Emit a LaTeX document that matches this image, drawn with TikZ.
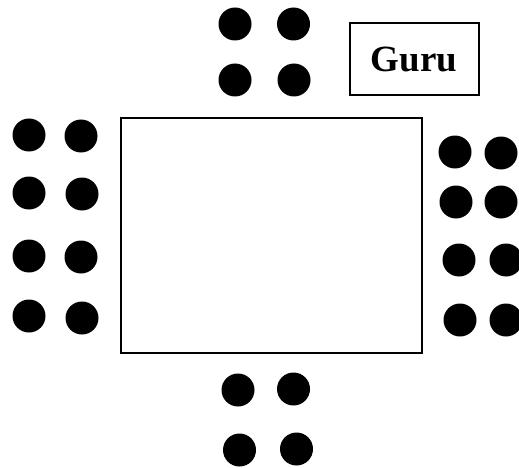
\documentclass[tikz,border=0pt]{standalone}
\usepackage{fontspec}
\setmainfont{Liberation Serif}
\begin{document}
\begin{tikzpicture}[x=1pt,y=-1pt,
  seat/.style={circle,fill=black,inner sep=0pt,minimum size=33pt},
  tablebox/.style={draw=black,line width=2pt},
  gurubox/.style={draw=black,line width=2pt,minimum width=129pt,minimum height=72pt,inner sep=0pt,font=\fontsize{37}{40}\selectfont\bfseries}]
\useasboundingbox (0,0) rectangle (519,468);
% table
\draw[tablebox] (121,118) rectangle (422,353);
\coordinate (tbl) at (271.5,235.5);
% guru
\node[gurubox] (guru) at (414,59.5) {Guru};
% top seats
\node[seat] (t1) at (235,24) {};
\node[seat] (t2) at (293.5,24) {};
\node[seat] (t3) at (235,80) {};
\node[seat] (t4) at (294,80) {};
% left seats
\node[seat] (l1) at (29,135) {};
\node[seat] (l2) at (81,136) {};
\node[seat] (l3) at (29,193) {};
\node[seat] (l4) at (82,194) {};
\node[seat] (l5) at (29,256) {};
\node[seat] (l6) at (81,257) {};
\node[seat] (l7) at (29,316) {};
\node[seat] (l8) at (82,318) {};
% right seats
\node[seat] (r1) at (455,152) {};
\node[seat] (r2) at (501,153) {};
\node[seat] (r3) at (456,202) {};
\node[seat] (r4) at (501,202) {};
\node[seat] (r5) at (459,260) {};
\node[seat] (r6) at (506,260) {};
\node[seat] (r7) at (460,320) {};
\node[seat] (r8) at (506,320) {};
% bottom seats
\node[seat] (b1) at (238,390) {};
\node[seat] (b2) at (293.5,389) {};
\node[seat] (b3) at (239.5,450) {};
\node[seat] (b4) at (296.5,449) {};
\end{tikzpicture}
\end{document}
